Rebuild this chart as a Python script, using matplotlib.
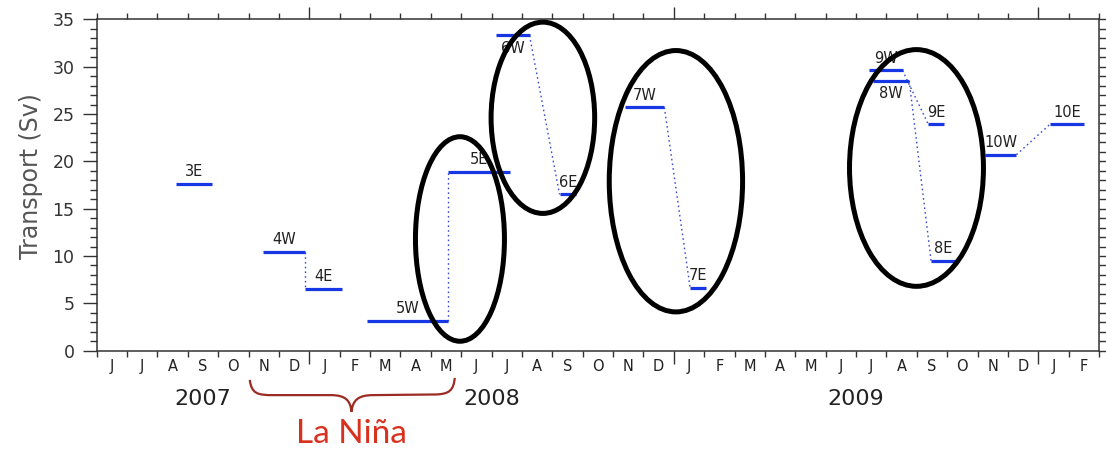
import matplotlib
matplotlib.use("Agg")
import matplotlib.pyplot as plt
import matplotlib.transforms as mtransforms
from matplotlib.patches import Ellipse, PathPatch
from matplotlib.path import Path

# time axis in months counted from 1 June 2007
month_letters = ['J', 'J', 'A', 'S', 'O', 'N', 'D',
                 'J', 'F', 'M', 'A', 'M', 'J', 'J', 'A', 'S', 'O', 'N', 'D',
                 'J', 'F', 'M', 'A', 'M', 'J', 'J', 'A', 'S', 'O', 'N', 'D',
                 'J', 'F']
year_names = ['2007', '2008', '2009']
year_spans = [(0, 7), (7, 19), (19, 31)]

# deployment segments: label, start month, end month, transport (Sv)
seg_names = ['3E', '4W', '4E', '5W', '5E', '6W', '6E', '7W', '7E',
             '8W', '8E', '9W', '9E', '10W', '10E']
seg_start = [2.60, 5.48, 6.85, 8.91, 11.57, 13.16, 15.24, 17.38, 19.54,
             25.57, 27.47, 25.44, 27.38, 29.25, 31.38]
seg_end = [3.80, 6.85, 8.09, 11.57, 13.62, 14.25, 15.79, 18.69, 20.06,
           26.75, 28.29, 26.53, 27.90, 30.28, 32.51]
seg_value = [17.6, 10.4, 6.5, 3.1, 18.9, 33.3, 16.5, 25.7, 6.6,
             28.5, 9.5, 29.6, 23.9, 20.7, 23.9]
labels_below = ['6W', '8W']

# west -> east pairs joined by a dotted line
links = [('4W', '4E'), ('5W', '5E'), ('6W', '6E'), ('7W', '7E'),
         ('8W', '8E'), ('9W', '9E'), ('10W', '10E')]

blue = '#1637e3'
axcol = '#333333'

fig = plt.figure(figsize=(11.06, 4.49), dpi=100)
ax = fig.add_axes([0.0874, 0.2189, 0.9063, 0.7381])
ax.set_xlim(0, 33)
ax.set_ylim(0, 35)

for i, name in enumerate(seg_names):
    ax.plot([seg_start[i], seg_end[i]], [seg_value[i], seg_value[i]],
            color=blue, lw=2.3, solid_capstyle='butt', zorder=3)
    mid = (seg_start[i] + seg_end[i]) / 2
    if name in labels_below:
        ax.annotate(name, (mid, seg_value[i]), xytext=(0, -4),
                    textcoords='offset points', ha='center', va='top',
                    fontsize=10.5, color='#222222')
    else:
        ax.annotate(name, (mid, seg_value[i]), xytext=(0, 3.5),
                    textcoords='offset points', ha='center', va='bottom',
                    fontsize=10.5, color='#222222')

for w, e in links:
    iw = seg_names.index(w)
    ie = seg_names.index(e)
    ax.plot([seg_end[iw], seg_start[ie]], [seg_value[iw], seg_value[ie]],
            color='#3a4fd0', lw=1.0, ls=(0, (1.2, 2.2)), zorder=2)

# highlight rings
rings = [(11.96, 11.8, 2.93, 21.6),
         (14.69, 24.6, 3.41, 20.2),
         (19.07, 17.9, 4.39, 27.6),
         (26.99, 19.3, 4.41, 25.0)]
for cx, cy, w, h in rings:
    ax.add_patch(Ellipse((cx, cy), w, h, fill=False, ec='black',
                         lw=3.6, zorder=4, clip_on=False))

# axes styling
for sp in ax.spines.values():
    sp.set_color(axcol)
    sp.set_linewidth(1.1)

ax.set_yticks(range(0, 36, 5))
ax.set_yticks(range(0, 36), minor=True)
ax.tick_params(axis='y', which='both', direction='out', left=True, right=True,
               color=axcol, width=1.0, labelsize=12.5, labelcolor='#333333',
               pad=6)
ax.tick_params(axis='y', which='major', length=10)
ax.tick_params(axis='y', which='minor', length=5)

ax.set_xticks([7, 19, 31])
ax.set_xticks(range(0, 34), minor=True)
ax.set_xticklabels([])
ax.tick_params(axis='x', which='both', direction='out', top=True, bottom=True,
               color=axcol, width=1.0)
ax.tick_params(axis='x', which='major', length=9)
ax.tick_params(axis='x', which='minor', length=4.3)

trans = mtransforms.blended_transform_factory(ax.transData, ax.transAxes)
for m, letter in enumerate(month_letters):
    ax.text(m + 0.5, -0.048, letter, transform=trans, ha='center',
            va='center', fontsize=10.5, color='#222222')
for name, (a, b) in zip(year_names, year_spans):
    ax.text((a + b) / 2, -0.146, name, transform=trans, ha='center',
            va='center', fontsize=16, color='#222222')

fig.text(31 / 1106, 1 - 176 / 449, 'Transport (Sv)', rotation=90,
         ha='center', va='center', fontsize=17, color='#555555')

# La Niña brace under Nov 2007 - May 2008
verts = [(5.04, -0.088),
         (5.10, -0.13), (5.30, -0.134), (5.80, -0.134),
         (7.70, -0.134),
         (8.20, -0.134), (8.35, -0.15), (8.39, -0.184),
         (8.43, -0.15), (8.60, -0.134), (9.10, -0.134),
         (11.20, -0.132),
         (11.60, -0.13), (11.75, -0.12), (11.79, -0.082)]
codes = [Path.MOVETO,
         Path.CURVE4, Path.CURVE4, Path.CURVE4,
         Path.LINETO,
         Path.CURVE4, Path.CURVE4, Path.CURVE4,
         Path.CURVE4, Path.CURVE4, Path.CURVE4,
         Path.LINETO,
         Path.CURVE4, Path.CURVE4, Path.CURVE4]
ax.add_patch(PathPatch(Path(verts, codes), fill=False, ec='#9c2b22', lw=1.6,
                       transform=trans, clip_on=False))
ax.text(8.39, -0.25, 'La Niña', transform=trans, ha='center', va='center',
        fontsize=24, color='#d8321f', family=['Lato', 'DejaVu Sans'])

fig.savefig('out.png', dpi=100)
